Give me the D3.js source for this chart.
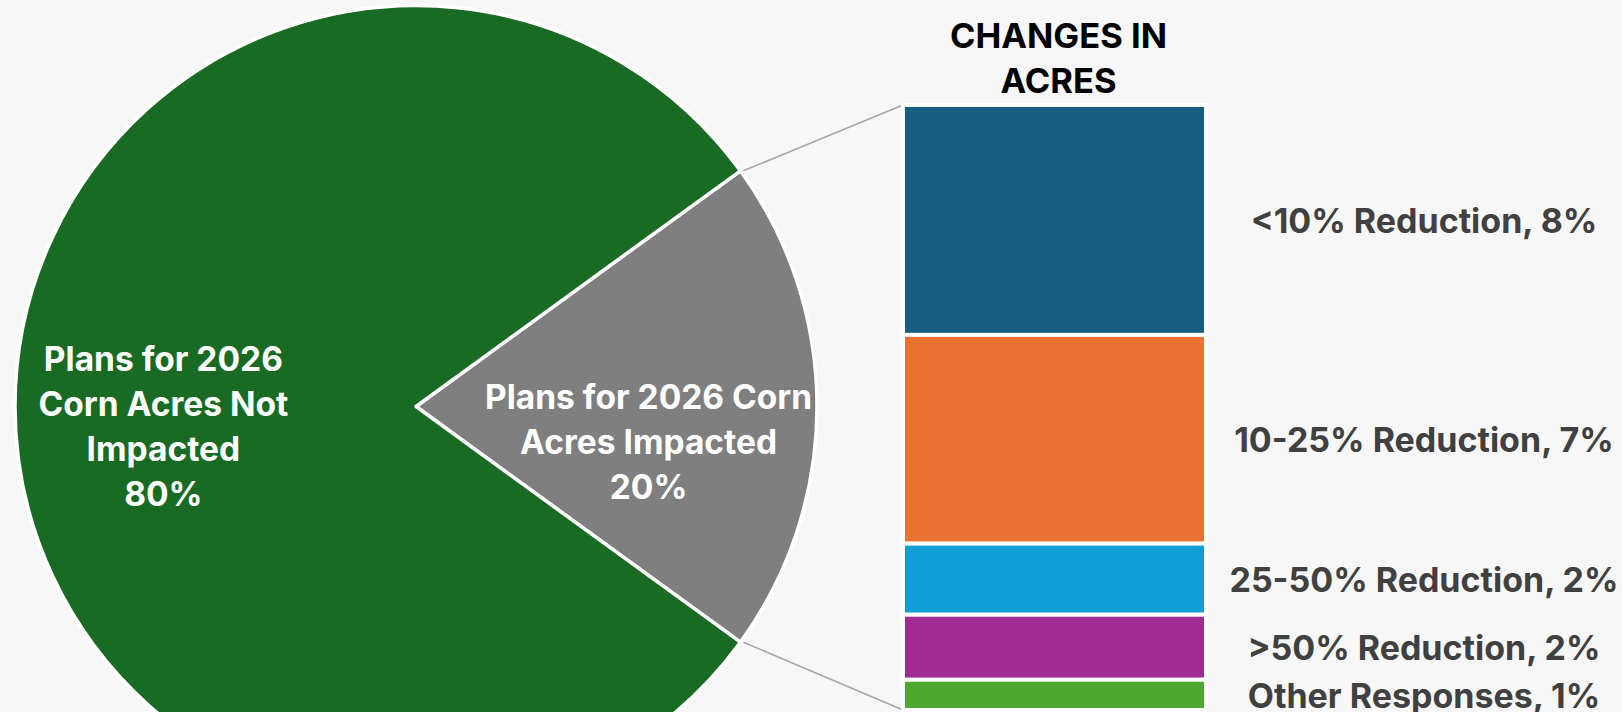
<!DOCTYPE html>
<html>
<head>
<meta charset="utf-8">
<script src="https://cdn.jsdelivr.net/npm/d3@7"></script>
<style>
  html, body { margin: 0; padding: 0; background: #f7f7f7; }
  svg { display: block; font-family: Inter, "Liberation Sans", Arial, sans-serif; font-weight: 700; }
  .pie-label { fill: #ffffff; font-size: 33.5px; }
  .bar-label { fill: #404040; font-size: 34px; }
  .title { fill: #000000; font-size: 34.5px; }
</style>
</head>
<body>
<div id="chart"></div>
<script>
// pie: share of respondents
const pieNames = ['Plans for 2026 Corn Acres Impacted', 'Plans for 2026 Corn Acres Not Impacted'];
const pieValues = [20, 80];
const pieColours = ['#7f7f7f', '#196b24'];
const pieLabelLines = [
  ['Plans for 2026 Corn', 'Acres Impacted', '20%'],
  ['Plans for 2026', 'Corn Acres Not', 'Impacted', '80%']
];

// stacked bar: breakdown of the impacted slice
const barNames = ['<10% Reduction', '10-25% Reduction', '25-50% Reduction', '>50% Reduction', 'Other Responses'];
const barValues = [7.6, 6.9, 2.35, 2.15, 1.0];
const barColours = ['#156082', '#e97132', '#0f9ed5', '#a02b93', '#4ea72e'];
const titleLines = ['CHANGES IN', 'ACRES'];

const width = 1622, height = 712;
const cx = 416, cy = 406.5, radius = 401;
const lineGap = 45;

const svg = d3.select('#chart').append('svg')
  .attr('width', width)
  .attr('height', height);

// pie
const pie = d3.pie()
  .sort(null)
  .startAngle(0.3 * Math.PI)
  .endAngle(2.3 * Math.PI);
const arcs = pie(pieValues);
const arc = d3.arc().innerRadius(0).outerRadius(radius);

const pieG = svg.append('g')
  .attr('transform', `translate(${cx},${cy})`);

pieG.selectAll('path')
  .data(arcs)
  .enter().append('path')
    .attr('d', arc)
    .attr('fill', (d, i) => pieColours[i])
    .attr('stroke', '#ffffff')
    .attr('stroke-width', 3.5)
    .attr('stroke-linejoin', 'round');

// label anchors, relative to pie centre (excel nudges them down a bit)
const labelArc = [
  d3.arc().innerRadius(radius * 0.58).outerRadius(radius * 0.58),
  d3.arc().innerRadius(radius * 0.63).outerRadius(radius * 0.63)
];
const labelDrop = [35, 20];

pieG.selectAll('text.pie-label')
  .data(arcs)
  .enter().append('text')
    .attr('class', 'pie-label')
    .attr('text-anchor', 'middle')
    .each(function(d, i) {
      const [lx, ly] = labelArc[i].centroid(d);
      const lines = pieLabelLines[i];
      const top = ly + labelDrop[i] - (lines.length - 1) * lineGap / 2;
      d3.select(this).selectAll('tspan')
        .data(lines)
        .enter().append('tspan')
          .attr('x', lx)
          .attr('y', (t, j) => top + j * lineGap)
          .attr('dy', '0.36em')
          .text(t => t);
    });

// stacked bar
const barX = 903, barW = 303;
const y = d3.scaleLinear()
  .domain([0, d3.sum(barValues)])
  .range([105, 710]);

const stacked = [];
let acc = 0;
barValues.forEach((v, i) => {
  stacked.push({ name: barNames[i], value: v, y0: acc, y1: acc + v, colour: barColours[i] });
  acc += v;
});

// connector lines from slice edge to bar corners
const impacted = arcs[0];
const edgePoint = a => [cx + radius * Math.sin(a), cy - radius * Math.cos(a)];
const connectors = [
  [edgePoint(impacted.startAngle), [barX, y(0)]],
  [edgePoint(impacted.endAngle), [barX, y(acc)]]
];
svg.append('g')
  .selectAll('line')
  .data(connectors)
  .enter().append('line')
    .attr('x1', d => d[0][0] + 3)
    .attr('y1', d => d[0][1])
    .attr('x2', d => d[1][0])
    .attr('y2', d => d[1][1])
    .attr('stroke', '#a6a6a6')
    .attr('stroke-width', 1.5);

svg.append('g')
  .selectAll('rect')
  .data(stacked)
  .enter().append('rect')
    .attr('x', barX)
    .attr('y', d => y(d.y0))
    .attr('width', barW)
    .attr('height', d => y(d.y1) - y(d.y0))
    .attr('fill', d => d.colour)
    .attr('stroke', '#ffffff')
    .attr('stroke-width', 4);

svg.append('g')
  .selectAll('text')
  .data(stacked)
  .enter().append('text')
    .attr('class', 'bar-label')
    .attr('text-anchor', 'middle')
    .attr('x', 1424)
    .attr('y', d => (y(d.y0) + y(d.y1)) / 2)
    .attr('dy', '0.38em')
    .text(d => `${d.name}, ${Math.round(d.value)}%`);

// title
svg.append('text')
  .attr('class', 'title')
  .attr('text-anchor', 'middle')
  .selectAll('tspan')
  .data(titleLines)
  .enter().append('tspan')
    .attr('x', barX + barW / 2 + 4)
    .attr('y', (d, i) => 48 + i * lineGap)
    .text(d => d);
</script>
</body>
</html>
